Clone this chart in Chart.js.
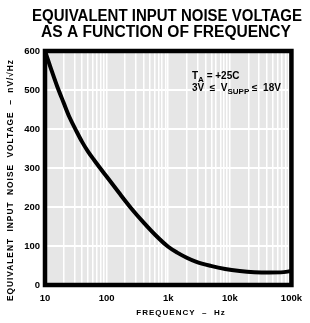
<!DOCTYPE html>
<html lang="en">
<head>
    <meta charset="UTF-8">
    <title>Equivalent Input Noise Voltage as a Function of Frequency</title>
    <script src="https://cdn.jsdelivr.net/npm/chart.js"></script>
    <style>
        html, body {
            margin: 0;
            padding: 0;
            background: #fff;
        }
        .wrap {
            width: 310px;
            height: 323px;
            position: relative;
        }
    </style>
</head>
<body>
    <div class="wrap">
        <canvas id="noiseChart" width="310" height="323"></canvas>
    </div>

    <script>
        // data (Hz, nV/rtHz)
        const freq = [10, 12.6, 15.8, 20, 25, 32, 40, 50, 63, 100, 158, 250, 400, 630, 1000, 1400, 2000, 2800, 4900, 8400, 14500, 25000, 43000, 75000, 100000];
        const noise = [600, 553, 509, 468, 430, 396, 367, 342, 320, 278, 237, 197, 160, 127, 98, 83, 70, 60, 49, 41, 36, 33, 32, 33, 36];

        const xTickValues = [10, 100, 1000, 10000, 100000];
        const xTickText = ['10', '100', '1k', '10k', '100k'];
        const yTicks = [0, 100, 200, 300, 400, 500, 600];

        const titleLines = ['EQUIVALENT INPUT NOISE VOLTAGE', 'AS A FUNCTION OF FREQUENCY'];
        const yTitle = 'EQUIVALENT  INPUT  NOISE  VOLTAGE  \u2013  nV/\u221AHz';
        const xTitle = 'FREQUENCY  \u2013  Hz';

        const FONT = '"Liberation Sans", Arial, sans-serif';

        // draws text runs, some as subscripts
        function drawRuns(ctx, runs, x, y) {
            runs.forEach(function(r) {
                ctx.font = r.sub ? 'bold 8px ' + FONT : 'bold 10px ' + FONT;
                ctx.fillText(r.t, x, r.sub ? y + 3 : y);
                x += ctx.measureText(r.t).width;
            });
        }

        const decor = {
            id: 'decor',
            beforeDraw: function(chart) {
                const a = chart.chartArea;
                const ctx = chart.ctx;
                ctx.save();
                ctx.fillStyle = '#e6e6e6';
                ctx.fillRect(a.left, a.top, a.right - a.left, a.bottom - a.top);
                ctx.restore();
            },
            afterDraw: function(chart) {
                const a = chart.chartArea;
                const ctx = chart.ctx;
                ctx.save();

                // frame
                ctx.strokeStyle = '#000';
                ctx.lineWidth = 4.5;
                ctx.strokeRect(a.left, a.top, a.right - a.left, a.bottom - a.top);

                // title
                ctx.fillStyle = '#000';
                ctx.textAlign = 'center';
                ctx.textBaseline = 'alphabetic';
                ctx.font = 'bold 16px ' + FONT;
                ctx.fillText(titleLines[0], 167, 21, 270);
                ctx.fillText(titleLines[1], 166, 37, 250);

                // conditions
                ctx.textAlign = 'left';
                drawRuns(ctx, [{t: 'T'}, {t: 'A', sub: true}, {t: ' = +25C'}], 192, 79);
                drawRuns(ctx, [{t: '3V  \u2264  V'}, {t: 'SUPP', sub: true}, {t: ' \u2264  18V'}], 192, 91);

                // x title
                ctx.textAlign = 'center';
                ctx.font = 'bold 8px ' + FONT;
                ctx.letterSpacing = '1px';
                ctx.fillText(xTitle, 181, 315);

                // y title
                ctx.translate(11, 180);
                ctx.rotate(-Math.PI / 2);
                ctx.textBaseline = 'middle';
                ctx.font = 'bold 8.5px ' + FONT;
                ctx.fillText(yTitle, 0, 0, 242);
                ctx.restore();
            }
        };

        const ctx = document.getElementById('noiseChart').getContext('2d');
        new Chart(ctx, {
            type: 'line',
            data: {
                datasets: [{
                    data: freq.map((f, i) => ({x: f, y: noise[i]})),
                    borderColor: '#000',
                    borderWidth: 4,
                    pointRadius: 0,
                    cubicInterpolationMode: 'monotone',
                    fill: false
                }]
            },
            options: {
                responsive: false,
                animation: false,
                layout: {
                    padding: {top: 51, right: 12, left: 0, bottom: 0}
                },
                plugins: {
                    legend: {display: false},
                    title: {display: false},
                    tooltip: {enabled: false}
                },
                scales: {
                    x: {
                        type: 'logarithmic',
                        min: 10,
                        max: 100000,
                        afterBuildTicks: function(scale) {
                            const t = [];
                            for (let e = 1; e <= 5; e++) {
                                for (let m = 1; m <= 9; m++) {
                                    const v = m * Math.pow(10, e);
                                    if (v <= 100000) t.push({value: v});
                                }
                            }
                            scale.ticks = t;
                        },
                        afterFit: function(scale) {
                            scale.height = 38;
                        },
                        grid: {
                            color: '#ffffff',
                            lineWidth: 1.5,
                            drawTicks: false
                        },
                        border: {display: false},
                        ticks: {
                            autoSkip: false,
                            maxRotation: 0,
                            padding: 8,
                            color: '#000',
                            font: {family: FONT, size: 9.5, weight: 'bold'},
                            callback: function(value) {
                                const i = xTickValues.indexOf(value);
                                return i >= 0 ? xTickText[i] : '';
                            }
                        }
                    },
                    y: {
                        min: 0,
                        max: 600,
                        afterBuildTicks: function(scale) {
                            scale.ticks = yTicks.map(v => ({value: v}));
                        },
                        afterFit: function(scale) {
                            scale.width = 45;
                        },
                        grid: {
                            color: '#ffffff',
                            lineWidth: 2,
                            drawTicks: false
                        },
                        border: {display: false},
                        ticks: {
                            padding: 5,
                            color: '#000',
                            font: {family: FONT, size: 9.5, weight: 'bold'}
                        }
                    }
                }
            },
            plugins: [decor]
        });
    </script>
</body>
</html>
